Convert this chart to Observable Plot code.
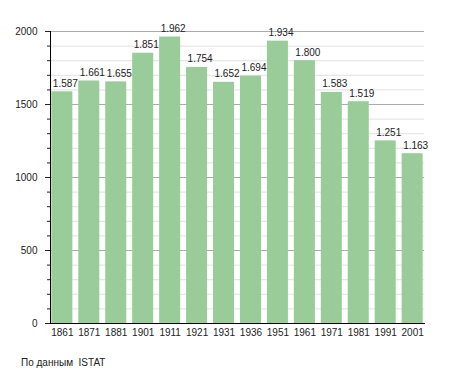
<!DOCTYPE html>
<html><head><meta charset="utf-8">
<script src="https://cdn.jsdelivr.net/npm/d3@7"></script>
<script src="https://cdn.jsdelivr.net/npm/@observablehq/plot@0.6"></script>
<style>body{margin:0;background:#fff} svg{display:block}</style>
</head><body><div id="chart"></div>
<script>
const years = ["1861","1871","1881","1901","1911","1921","1931","1936","1951","1961","1971","1981","1991","2001"];
const population = [1587,1661,1655,1851,1962,1754,1652,1694,1934,1800,1583,1519,1251,1163];
const valueLabels = ["1.587","1.661","1.655","1.851","1.962","1.754","1.652","1.694","1.934","1.800","1.583","1.519","1.251","1.163"];
const yMajorTicks = [0,500,1000,1500,2000];
const yMinorTicks = [0,100,200,300,400,500,600,700,800,900,1000,1100,1200,1300,1400,1500,1600,1700,1800,1900,2000];
const captionText = "По данным\u00a0 ISTAT";

const data = years.map((year, i) => ({year, value: population[i], label: valueLabels[i]}));

const plot = Plot.plot({
  width: 455, height: 373,
  marginTop: 31, marginBottom: 50, marginLeft: 50, marginRight: 31,
  style: {fontFamily: "'Liberation Sans', Arial, sans-serif", fontSize: "10px", color: "#222", background: "#fff"},
  x: {domain: years, paddingInner: 0.22, paddingOuter: 0.05, round: false, label: null},
  y: {domain: [0, 2000], label: null},
  marks: [
    Plot.ruleY(yMinorTicks, {stroke: "#e0e0e0"}),
    Plot.ruleY(yMajorTicks, {stroke: "#aaa"}),
    Plot.barY(data, {x: "year", y: "value", fill: "#99cc99"}),
    Plot.text(data, {x: "year", y: "value", text: "label", textAnchor: "start", lineAnchor: "bottom", dx: -9.5, dy: -5, fill: "#222", fontSize: 10}),
    Plot.axisY(yMinorTicks, {tickSize: 3, tickFormat: () => "", label: null, stroke: "#222"}),
    Plot.axisY(yMajorTicks, {tickSize: 5, tickPadding: 8, tickFormat: d => String(d), label: null, fontSize: 10}),
    Plot.axisX({tickSize: 0, tickPadding: 5, label: null, fontSize: 10}),
    Plot.frame({anchor: "left", stroke: "#000"}),
    Plot.frame({anchor: "bottom", stroke: "#000"}),
    Plot.text([captionText], {text: d => d, frameAnchor: "bottom-left", textAnchor: "start", lineAnchor: "bottom", dx: -29.5, dy: 42, fontSize: 10, fill: "#222"})
  ]
});
document.getElementById("chart").append(plot);
</script>
</body></html>
